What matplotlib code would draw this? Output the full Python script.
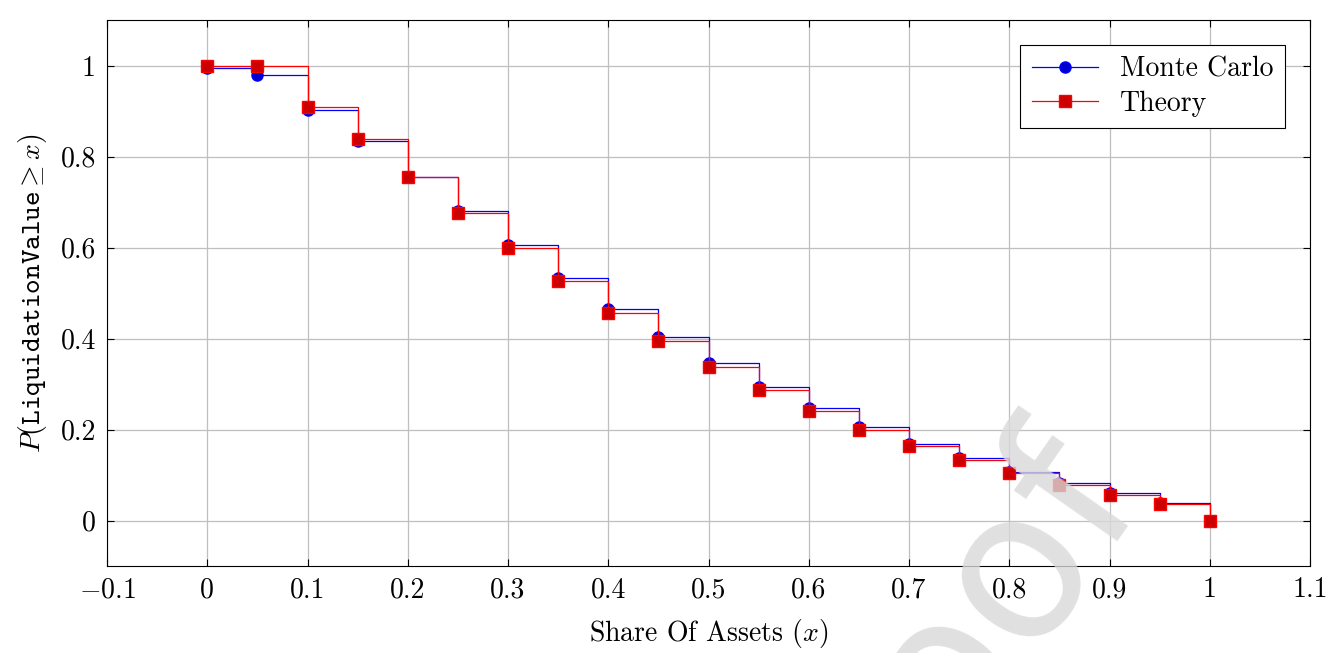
import numpy as np
import matplotlib
matplotlib.use("Agg")
import matplotlib.pyplot as plt

plt.rcParams["font.family"] = "cmr10"
plt.rcParams["mathtext.fontset"] = "cm"
plt.rcParams["axes.formatter.use_mathtext"] = True

share = [0, 0.05, 0.1, 0.15, 0.2, 0.25, 0.3, 0.35, 0.4, 0.45, 0.5,
         0.55, 0.6, 0.65, 0.7, 0.75, 0.8, 0.85, 0.9, 0.95, 1.0]
monte_carlo = [0.995, 0.98, 0.902, 0.834, 0.755, 0.68, 0.606, 0.534, 0.465, 0.403, 0.346,
               0.293, 0.248, 0.206, 0.169, 0.137, 0.107, 0.082, 0.060, 0.039, 0.0]
theory = [1.0, 1.0, 0.909, 0.838, 0.755, 0.675, 0.598, 0.526, 0.457, 0.395, 0.338,
          0.286, 0.240, 0.200, 0.164, 0.132, 0.104, 0.079, 0.057, 0.037, 0.0]

fig = plt.figure(figsize=(13.41, 6.53), dpi=100)
ax = fig.add_axes([107/1341, 1 - 566/653, (1310-107)/1341, (566-20)/653])

ax.plot(share, monte_carlo, drawstyle="steps-post", color="#0000ff", lw=0.9,
        marker="o", ms=8, mfc="#0000cc", mec="#0000ff", label="Monte Carlo")
ax.plot(share, theory, drawstyle="steps-post", color="#ff0000", lw=0.9,
        marker="s", ms=8, mfc="#cc0000", mec="#ff0000", label="Theory")

ax.set_xlim(-0.1, 1.1)
ax.set_ylim(-0.1, 1.1)
ax.set_xticks(np.arange(-0.1, 1.11, 0.1))
ax.set_yticks([0, 0.2, 0.4, 0.6, 0.8, 1.0])
ax.set_xticklabels(["$-0.1$", "0", "0.1", "0.2", "0.3", "0.4", "0.5", "0.6", "0.7", "0.8", "0.9", "1", "1.1"])
ax.set_yticklabels(["0", "0.2", "0.4", "0.6", "0.8", "1"])
ax.tick_params(labelsize=20, direction="in", length=5, top=True, right=True, pad=8)
ax.grid(True, color="#bfbfbf", lw=0.9)
ax.set_axisbelow(True)
ax.set_xlabel("Share Of Assets ($x$)", fontsize=20, labelpad=10)
ax.set_ylabel(r"$P(\mathtt{LiquidationValue} \geq x)$", fontsize=20, labelpad=8)

leg = ax.legend(loc="upper right", fontsize=20, fancybox=False, edgecolor="black",
                framealpha=1, handlelength=2.4, borderpad=0.4, labelspacing=0.3,
                borderaxespad=0.9)
leg.get_frame().set_linewidth(0.8)

fig.text(0.70, -0.02, "Proof", fontsize=150, color="#d9d9d9", alpha=0.8,
         rotation=55, ha="center", va="center", family="DejaVu Sans", zorder=0)

fig.savefig("out.png", dpi=100)
